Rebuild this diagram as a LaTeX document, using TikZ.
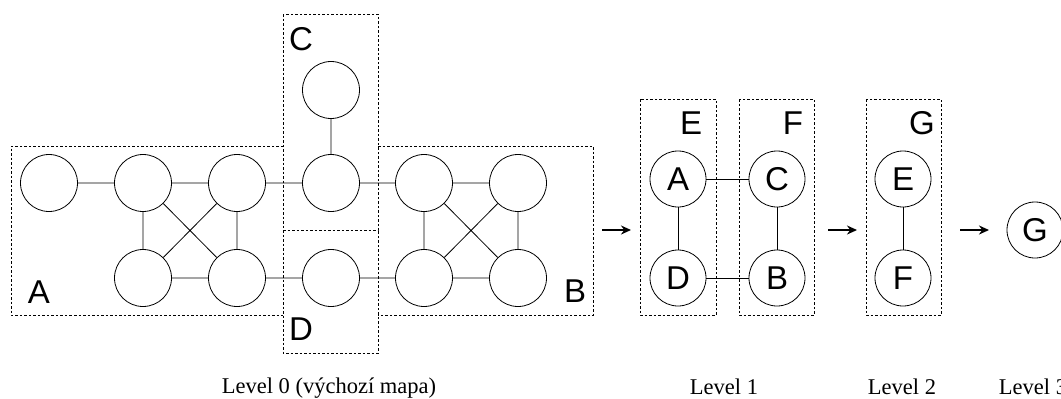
\documentclass[tikz,border=0pt]{standalone}
\usepackage{fontspec}
\setmainfont{Liberation Serif}
\newfontfamily\arial{Liberation Sans}
\usetikzlibrary{arrows.meta}

\begin{document}
\begin{tikzpicture}[x=1pt, y=-1pt, line width=0.8pt,
    vrchol/.style={draw, circle, minimum size=57pt, inner sep=0pt},
    uzel/.style={draw, circle, minimum size=56pt, inner sep=0pt, font=\arial\fontsize{33}{33}\selectfont},
    oblast/.style={draw, dash pattern=on 2.5pt off 2pt},
    popis/.style={anchor=base, font=\arial\fontsize{33}{33}\selectfont},
    uroven/.style={anchor=base, font=\fontsize{22.5}{23}\selectfont},
    sipka/.style={-{Stealth[length=10pt, width=9pt]}, line width=1.6pt}]
      \useasboundingbox (0, 0) rectangle (1061, 399);
      % level 0
      \draw[oblast] (283, 14) rectangle (378, 230)
                    (283, 230) -- (283, 353) -- (378, 353) -- (378, 230)
                    (283, 146) -- (11, 146) -- (11, 315) -- (283, 315)
                    (378, 146) -- (593, 146) -- (593, 315) -- (378, 315);
      \draw (39, 303) node[popis] (lA) {A}
            (575, 302) node[popis] (lB) {B}
            (301, 50) node[popis] (lC) {C}
            (301, 340) node[popis] (lD) {D};
      \draw (49, 183) node[vrchol] (a0) {}
            (143, 183) node[vrchol] (a1) {}
            (237, 183) node[vrchol] (a2) {}
            (143, 278) node[vrchol] (a3) {}
            (237, 278) node[vrchol] (a4) {}
            (331, 90) node[vrchol] (c1) {}
            (331, 183) node[vrchol] (c0) {}
            (331, 278) node[vrchol] (d0) {}
            (424, 183) node[vrchol] (b1) {}
            (518, 183) node[vrchol] (b2) {}
            (424, 278) node[vrchol] (b3) {}
            (518, 278) node[vrchol] (b4) {};
      \draw (a0) -- (a1) -- (a2) -- (c0) -- (b1) -- (b2)
            (c1) -- (c0)
            (a3) -- (a4) -- (d0) -- (b3) -- (b4)
            (a1) -- (a3) (a2) -- (a4) (a1) -- (a4) (a2) -- (a3)
            (b1) -- (b3) (b2) -- (b4) (b1) -- (b4) (b2) -- (b3);
      \node[uroven] (cap0) at (329, 393) {Level 0 (výchozí mapa)};
      % level 1
      \coordinate (s1a) at (602, 230);
      \coordinate (s1b) at (631, 230);
      \draw[sipka] (s1a) -- (s1b);
      \draw[oblast] (640, 99) rectangle (716, 315)
                    (739, 99) rectangle (814, 315);
      \draw (691, 134) node[popis] (lE) {E}
            (793, 134) node[popis] (lF) {F};
      \draw (678, 179) node[uzel] (A) {A}
            (678, 278) node[uzel] (D) {D}
            (777, 179) node[uzel] (C) {C}
            (777, 278) node[uzel] (B) {B};
      \draw (A) -- (C) (D) -- (B) (A) -- (D) (C) -- (B);
      \node[uroven] (cap1) at (724, 394) {Level 1};
      % level 2
      \coordinate (s2a) at (828, 230);
      \coordinate (s2b) at (857, 230);
      \draw[sipka] (s2a) -- (s2b);
      \draw[oblast] (866, 99) rectangle (941, 315);
      \draw (922, 134) node[popis] (lG) {G};
      \draw (903, 179) node[uzel] (E) {E}
            (903, 278) node[uzel] (F) {F};
      \draw (E) -- (F);
      \node[uroven] (cap2) at (902, 394) {Level 2};
      % level 3
      \coordinate (s3a) at (960, 230);
      \coordinate (s3b) at (989, 230);
      \draw[sipka] (s3a) -- (s3b);
      \draw (1035, 230) node[uzel] (G) {G};
      \node[uroven] (cap3) at (1033, 394) {Level 3};
\end{tikzpicture}
\end{document}
